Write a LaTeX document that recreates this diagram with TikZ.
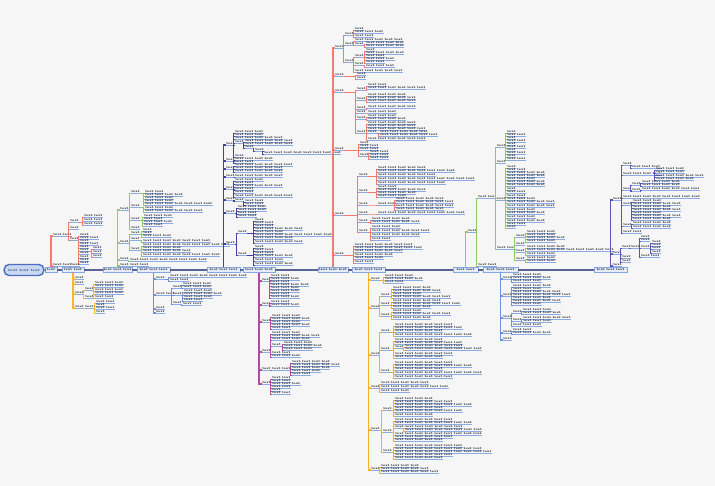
\documentclass[tikz,border=0pt]{standalone}
\usepackage{tikz}

\definecolor{bgc}{HTML}{F6F6F6}
\definecolor{spinec}{HTML}{5A6396}
\definecolor{hubc}{HTML}{86A6E2}
\definecolor{hubf}{HTML}{E4ECFA}
\definecolor{ulc}{HTML}{8AABE6}
\definecolor{rootc}{HTML}{4B6EC0}
\definecolor{rootf}{HTML}{C9D7F2}
\definecolor{cA}{HTML}{F07A6C}
\definecolor{cB}{HTML}{F5B731}
\definecolor{cC}{HTML}{8CCB67}
\definecolor{cD}{HTML}{6E90D8}
\definecolor{cE}{HTML}{4B3F9E}
\definecolor{cF}{HTML}{B04C9E}
\definecolor{cG}{HTML}{F07A6C}
\definecolor{cH}{HTML}{F5B028}
\definecolor{cI}{HTML}{8CCB67}
\definecolor{cJ}{HTML}{6E90D8}
\definecolor{cK}{HTML}{5E52B3}

\newcommand\leaffont{\fontsize{2.6}{3}\selectfont\bfseries}

\begin{document}
\begin{tikzpicture}[x=0.03cm, y=-0.03cm,
        leaf/.style={anchor=south west, inner xsep=0.15pt, inner ysep=0.3pt,
            font=\leaffont, append after command={(\tikzlastnode.south west)
            edge[uline] (\tikzlastnode.south east)}},
        uline/.style={draw=ulc, line width=0.45pt},
        hub/.style={draw=hubc, fill=hubf, line width=0.5pt, inner sep=0.4pt,
            minimum height=0.16cm, font=\leaffont},
        spine/.style={draw=spinec, line width=1.8pt},
        bough/.style={draw=#1, line width=1.1pt},
        twig/.style={draw=#1, line width=0.55pt}]
        \newcommand\leafwords[1]{\foreach \k in {1,...,#1}{\ifnum\k>1 \ \fi text}}
        % first level: from a hub on the spine
        \newcommand\limbs[5]{\foreach \y/\nw [count=\i] in {#5} {
            \node[leaf] (#1-\i) at (#4,\y) {\leafwords{\nw}};
            \draw[bough=#3] (#1.#2) |- (#1-\i.south west);}}
        % deeper levels: from a parent topic
        \newcommand\twigs[4]{\foreach \y/\nw [count=\i] in {#4} {
            \node[leaf] (#1-\i) at (#3,\y) {\leafwords{\nw}};
            \draw[twig=#2] (#1.south east) -| ([xshift=-0.06cm]#1-\i.south west)
                -- (#1-\i.south west);}}

        \fill[bgc] (0,0) rectangle (715,486);
        \useasboundingbox (0,0) rectangle (715,486);

        % root and spine
        \node[draw=rootc, fill=rootf, line width=1.2pt, rounded corners=0.15cm,
            minimum width=1.14cm, minimum height=0.33cm, text=rootc!60!black,
            font=\fontsize{3}{3.5}\selectfont\bfseries] (root) at (24,270)
            {text text text};
        \node[hub, minimum width=0.36cm] (ra) at (51,270) {\leafwords{1}};
        \node[hub, minimum width=0.66cm] (ob) at (73,270) {\leafwords{2}};
        \node[hub, minimum width=0.81cm] (gc) at (117.5,270) {\leafwords{3}};
        \node[hub, minimum width=0.99cm] (bd) at (153.5,270) {\leafwords{3}};
        \node[hub, minimum width=0.99cm] (pe) at (223.5,270) {\leafwords{3}};
        \node[hub, minimum width=0.96cm] (mf) at (259,270) {\leafwords{3}};
        \node[hub, minimum width=0.90cm] (rg) at (333,270) {\leafwords{3}};
        \node[hub, minimum width=0.99cm] (oh) at (368.5,270) {\leafwords{3}};
        \node[hub, minimum width=0.75cm] (gi) at (465.5,270) {\leafwords{2}};
        \node[hub, minimum width=1.05cm] (bj) at (500.5,270) {\leafwords{3}};
        \node[hub, minimum width=0.99cm] (pk) at (610.5,270) {\leafwords{3}};
        \draw[spine] (root) -- (ra) -- (ob) -- (gc) -- (bd) -- (pe) -- (mf)
            -- (rg) -- (oh) -- (gi) -- (bj) -- (pk);

        % red branch
        \limbs{ra}{north}{cA}{53}{236/2,266/2}
        \twigs{ra-1}{cA}{70}{222/1,229/1,240/1}
        \twigs{ra-1-1}{cA}{84}{217/2,221/2,225/2}
        \twigs{ra-1-3}{cA}{80}{236/1,239/2,242/1,245/2,248/1,251/1,254/1,258/1,261/1,264/1}
        \twigs{ra-1-3-6}{cA}{93}{249/1,253/1,257/1}
        \twigs{ra-2}{cA}{71}{266/1}

        % orange branch
        \limbs{ob}{south}{cB}{75}{279/1,284/1,294/1,308/1}
        \twigs{ob-3}{cB}{85}{290/1,298/1}
        \twigs{ob-3-1}{cB}{95}{284/3,287/3,291/3,294/3,298/2}
        \twigs{ob-4}{cB}{85}{308/1}
        \twigs{ob-4-1}{cB}{96}{303/2,306/1,309/2,313/1}

        % green branch
        \limbs{gc}{north}{cC}{120}{210/1,243/1,260/1,266/1}
        \twigs{gc-1}{cC}{131}{193/1,207/1,220/1,229/1}
        \twigs{gc-1-1}{cC}{145}{193/2,196/4,199/3,202/3,205/7}
        \twigs{gc-1-2}{cC}{145}{209/3,212/6}
        \twigs{gc-1-3}{cC}{144}{217/3,220/2,223/3,226/2}
        \twigs{gc-2}{cC}{131}{234/1,240/1,250/1}
        \twigs{gc-2-1}{cC}{143}{231/1,234/1,237/3}
        \twigs{gc-2-2}{cC}{143}{242/7}
        \twigs{gc-2-3}{cC}{143}{246/9,249/4,252/5,256/8}
        \twigs{gc-3}{cC}{130}{261/8}
        \twigs{gc-4}{cC}{130}{266/2}

        % blue branch
        \limbs{bd}{south}{cD}{156}{279/1,295/2,309/1,313/1}
        \twigs{bd-1}{cD}{170}{277/8,281/2}
        \twigs{bd-2}{cD}{173}{288/1,295/1,304/1}
        \twigs{bd-2-1}{cD}{183}{285/3,288/3}
        \twigs{bd-2-2}{cD}{184}{292/3,295/4,298/3,301/2}
        \twigs{bd-2-3}{cD}{183}{305/2}

        % purple branch
        \limbs{pe}{north}{cE}{226}{145/1,161/1,169/1,177/1,189/1,200/1,213/1,244/1}
        \twigs{pe-1}{cE}{235}{133/3,136/3,139/5,143/1,157/1}
        \twigs{pe-1-4}{cE}{245}{142/5,145/5,148/1}
        \twigs{pe-1-4-3}{cE}{255}{151/1}
        \twigs{pe-1-4-3-1}{cE}{264}{154/8}
        \twigs{pe-2}{cE}{235}{160/4,163/2}
        \twigs{pe-3}{cE}{235}{166/6,169/5,172/5}
        \twigs{pe-4}{cE}{235}{177/5}
        \twigs{pe-5}{cE}{235}{181/3,184/2,187/5,190/2,193/2,197/6}
        \twigs{pe-6}{cE}{235}{201/1}
        \twigs{pe-6-1}{cE}{245}{202/2,205/2}
        \twigs{pe-7}{cE}{238}{208/3,211/3,214/2,217/2}
        \twigs{pe-8}{cE}{238}{233/1,255/1}
        \twigs{pe-8-1}{cE}{255}{221/1,224/2,227/2,230/5,233/3,236/8,239/4,243/5}
        \twigs{pe-8-2}{cE}{255}{248/1,251/2,254/2,257/4,261/3,265/4}

        % magenta branch
        \limbs{mf}{south}{cF}{262}{281/1,305/1,322/1,352/1,370/1,384/1}
        \twigs{mf-1}{cF}{271}{277/2,280/3,283/2,286/4,289/3,292/3,295/2,298/3}
        \twigs{mf-2}{cF}{271}{303/2,306/3}
        \twigs{mf-3}{cF}{272}{317/3,320/4,323/3,326/4,329/2}
        \twigs{mf-4}{cF}{272}{334/3,337/5,340/4,346/1,354/2,357/3}
        \twigs{mf-4-4}{cF}{284}{344/3,347/4,350/3}
        \twigs{mf-5}{cF}{272}{370/2}
        \twigs{mf-5-1}{cF}{292}{363/4,366/5,369/4,372/3,375/2}
        \twigs{mf-6}{cF}{272}{379/2,382/2,385/3,388/2,391/1,394/2}

        % salmon branch
        \limbs{rg}{north}{cG}{335}{48/1,76/1,92/1,150/1,215/1,255/1}
        \twigs{rg-1}{cG}{345}{35/1,45/1,62/1}
        \twigs{rg-1-1}{cG}{355}{30/1,33/3,37/2}
        \twigs{rg-1-2}{cG}{355}{41/5,45/1}
        \twigs{rg-1-2-2}{cG}{366}{44/4,47/4}
        \twigs{rg-1-3}{cG}{355}{57/1,65/1,72/5}
        \twigs{rg-1-3-1}{cG}{366}{51/1,54/4,57/2,60/3,63/2}
        \twigs{rg-1-3-2}{cG}{366}{67/3}
        \twigs{rg-2}{cG}{357}{75/1,79/1}
        \twigs{rg-3}{cG}{357}{90/1,100/1,109/1,113/1,119/1,133/1}
        \twigs{rg-3-1}{cG}{368}{86/2,89/6}
        \twigs{rg-3-2}{cG}{368}{96/4,99/5,102/5}
        \twigs{rg-3-3}{cG}{368}{108/5}
        \twigs{rg-3-4}{cG}{368}{113/3}
        \twigs{rg-3-5}{cG}{368}{117/3,120/4}
        \twigs{rg-3-6}{cG}{368}{124/5,127/5,130/6,133/1,140/6}
        \twigs{rg-3-6-4}{cG}{380}{133/5,136/6}
        \twigs{rg-4}{cG}{360}{144/1,147/2,150/2,156/1}
        \twigs{rg-4-4}{cG}{370}{153/2,156/2,159/2}
        \twigs{rg-5}{cG}{359}{176/1,192/1,205/1,214/1,222/1,232/1}
        \twigs{rg-5-1}{cG}{378}{169/5,172/8,176/6,180/10,184/7}
        \twigs{rg-5-2}{cG}{378}{188/2,191/5,194/4,197/3}
        \twigs{rg-5-3}{cG}{378}{205/2}
        \twigs{rg-5-3-1}{cG}{396}{200/5,203/6,207/6,210/5}
        \twigs{rg-5-4}{cG}{378}{214/9}
        \twigs{rg-5-5}{cG}{372}{220/4,223/5}
        \twigs{rg-5-6}{cG}{372}{228/3,232/6,236/5,240/2}
        \twigs{rg-6}{cG}{355}{246/6,249/7,252/5,256/4,259/3,263/2}

        % orange branch below
        \limbs{oh}{south}{cH}{371}{280/1,308/1,355/1,388/1,430/1,470/1}
        \twigs{oh-1}{cH}{385}{277/3,280/4,283/2}
        \twigs{oh-2}{cH}{381}{296/1,305/1,316/1}
        \twigs{oh-2-1}{cH}{393}{289/4,292/5,295/3,298/6}
        \twigs{oh-2-2}{cH}{393}{302/5,305/7,308/4}
        \twigs{oh-2-3}{cH}{393}{312/3,315/6,319/4}
        \twigs{oh-3}{cH}{381}{332/1,350/1,372/1}
        \twigs{oh-3-1}{cH}{395}{326/6,329/7,332/5,336/8}
        \twigs{oh-3-2}{cH}{395}{341/5,344/7,348/1,355/6,358/5}
        \twigs{oh-3-2-3}{cH}{405}{347/6,350/8}
        \twigs{oh-3-3}{cH}{395}{364/6,367/8,370/5,374/9,378/6}
        \twigs{oh-4}{cH}{381}{384/5,388/7,392/3}
        \twigs{oh-5}{cH}{383}{410/1,432/1,452/1}
        \twigs{oh-5-1}{cH}{395}{400/4,403/6,406/8,409/5,412/7,416/4}
        \twigs{oh-5-2}{cH}{395}{421/6,424/8,428/1,435/9,438/6,441/5}
        \twigs{oh-5-2-3}{cH}{405}{428/6,431/8}
        \twigs{oh-5-3}{cH}{395}{447/7,450/9,453/10,456/6,459/5}
        \twigs{oh-6}{cH}{381}{467/4,470/5,473/6}

        % second green branch
        \limbs{gi}{north}{cI}{468}{232/1}
        \twigs{gi-1}{cI}{478}{198/2,266/2}
        \twigs{gi-1-1}{cI}{497}{147/1,163/1,200/1,249/2}
        \twigs{gi-1-1-1}{cI}{507}{133/1,136/2,139/1,142/2,145/1,148/2,151/1,154/2,157/1,160/2}
        \twigs{gi-1-1-3}{cI}{507}{168/1,171/2,174/4,177/4,180/3,183/4,186/4,190/1,193/2,197/2,200/3,203/5,207/5,211/3,214/4,218/3,222/4,225/2,228/1}
        \twigs{gi-1-1-4}{cI}{516}{237/1,245/1,252/1,260/1}
        \twigs{gi-1-1-4-1}{cI}{527}{233/3,236/3,239/4,242/3}
        \twigs{gi-1-1-4-3}{cI}{527}{248/4,251/9,255/3}
        \twigs{gi-1-1-4-4}{cI}{527}{259/3,262/3}

        % second blue branch
        \limbs{bj}{south}{cJ}{503}{279/1,296/1,318/1,333/1,340/1}
        \twigs{bj-1}{cJ}{513}{276/3,279/4,282/3}
        \twigs{bj-2}{cJ}{513}{287/4,290/3,293/5,296/6,299/4,302/5,305/3}
        \twigs{bj-3}{cJ}{513}{313/1,321/1,326/3}
        \twigs{bj-3-1}{cJ}{523}{311/3,314/4}
        \twigs{bj-3-2}{cJ}{523}{319/5,322/3}
        \twigs{bj-4}{cJ}{513}{331/2,334/4}

        % last purple branch
        \limbs{pk}{north}{cK}{613}{200/1,254/1,266/1}
        \twigs{pk-1}{cK}{623}{165/1,175/4,190/1,198/8,205/1,226/1,233/2}
        \twigs{pk-1-1}{cK}{632}{168/3}
        \twigs{pk-1-2}{cK}{656}{170/3,173/3,177/5,180/4}
        \twigs{pk-1-3}{cK}{632}{185/1,191/1}
        \twigs{pk-1-3-1}{cK}{642}{183/4,186/4}
        \twigs{pk-1-3-2}{cK}{642}{190/6}
        \twigs{pk-1-5}{cK}{633}{202/3,205/5,208/4,211/5,214/3,217/5,220/4}
        \twigs{pk-1-6}{cK}{633}{224/4,228/4}
        \twigs{pk-2}{cK}{622}{248/1,258/1,262/1}
        \twigs{pk-2-1}{cK}{631}{248/1}
        \twigs{pk-2-1-1}{cK}{641}{238/1,241/1,248/1,257/2}
        \twigs{pk-2-1-1-3}{cK}{652}{243/1,246/1,249/1,253/1}
    \end{tikzpicture}
\end{document}
